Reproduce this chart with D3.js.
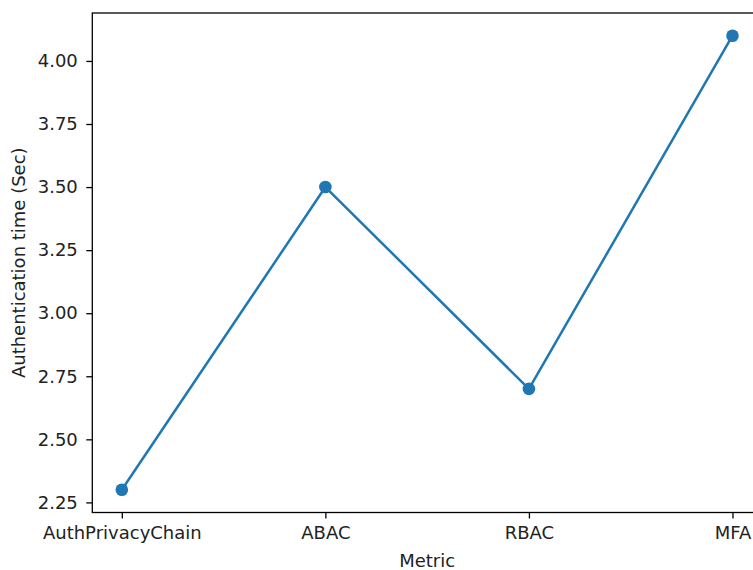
<!DOCTYPE html>
<html><head><meta charset="utf-8">
<script src="https://cdn.jsdelivr.net/npm/d3@7"></script>
<style>body{margin:0;background:#fff}svg{display:block}text{font-family:"DejaVu Sans",sans-serif}</style>
</head><body><svg id="c" width="753" height="570"></svg>
<script>
const categories = ["AuthPrivacyChain", "ABAC", "RBAC", "MFA"];
const values = [2.3, 3.5, 2.7, 4.1];
const yTicks = [2.25, 2.5, 2.75, 3.0, 3.25, 3.5, 3.75, 4.0];
const xLabel = "Metric";
const yLabel = "Authentication time (Sec)";

const svg = d3.select("#c");
const L = 92.3, R = 762, T = 13, B = 512.5;
const x = d3.scalePoint().domain(categories).range([L, R]).padding(0.145);
const y = d3.scaleLinear().domain([2.21, 4.19]).range([B, T]);
const fs = "18px";

// spines
svg.append("rect").attr("x", L).attr("y", T).attr("width", R - L).attr("height", B - T)
  .attr("fill", "none").attr("stroke", "#000").attr("stroke-width", 1.3);

const xa = svg.append("g").attr("transform", `translate(0,${B})`)
  .call(d3.axisBottom(x).tickSize(6).tickPadding(8));
const ya = svg.append("g").attr("transform", `translate(${L},0)`)
  .call(d3.axisLeft(y).tickValues(yTicks).tickFormat(d3.format(".2f")).tickSize(6).tickPadding(8.5));
[xa, ya].forEach(a => {
  a.select(".domain").remove();
  a.selectAll(".tick line").attr("stroke", "#000").attr("stroke-width", 1.3);
  a.selectAll("text").attr("fill", "#222").style("font-size", fs).style("font-family", "DejaVu Sans");
});

const line = d3.line().x((d, i) => x(categories[i])).y(d => y(d));
svg.append("path").datum(values).attr("d", line).attr("fill", "none")
  .attr("stroke", "#1f77b4").attr("stroke-width", 2.5).attr("stroke-linejoin", "round");
svg.selectAll("circle.pt").data(values).join("circle").attr("class", "pt")
  .attr("cx", (d, i) => x(categories[i])).attr("cy", d => y(d)).attr("r", 6.3)
  .attr("fill", "#1f77b4");

svg.append("text").attr("x", (L + R) / 2).attr("y", 567).attr("text-anchor", "middle")
  .style("font-size", fs).attr("fill", "#222").text(xLabel);
svg.append("text").attr("transform", `translate(25,${(T + B) / 2}) rotate(-90)`)
  .attr("text-anchor", "middle").style("font-size", fs).attr("fill", "#222").text(yLabel);
</script></body></html>
